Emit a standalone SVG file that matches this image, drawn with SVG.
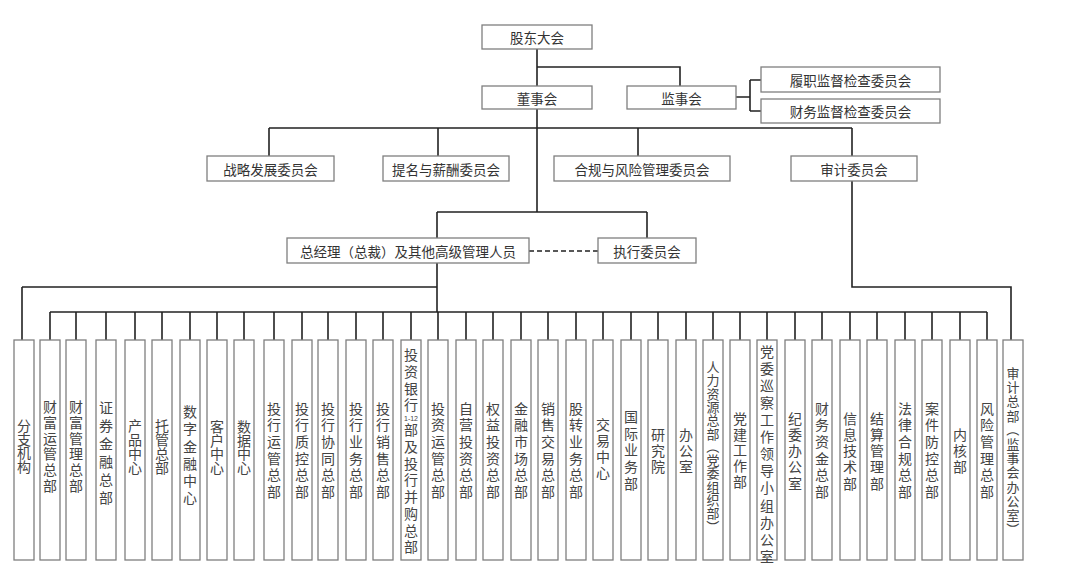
<svg xmlns="http://www.w3.org/2000/svg" width="1080" height="569" viewBox="0 0 1080 569">
<style>
.box{fill:#fff;stroke:#7f7f7f;stroke-width:1.3}
.conn{stroke:#222;stroke-width:1.6;fill:none}
.dash{stroke:#222;stroke-width:1.6;fill:none;stroke-dasharray:5 3}
.lbl{font-family:"Noto Sans CJK SC","Noto Sans",sans-serif;font-size:13.5px;fill:#333;text-anchor:middle;dominant-baseline:central}
.v{font-family:"Noto Sans CJK SC","Noto Sans",sans-serif;font-size:14px;fill:#444;text-anchor:middle;writing-mode:vertical-rl;dominant-baseline:central}
.p{font-family:"Noto Sans CJK SC","Noto Sans",sans-serif;font-size:13px;fill:#444;text-anchor:middle;dominant-baseline:central}
.sm{font-family:"Liberation Sans",sans-serif;font-size:7px;fill:#444;text-anchor:middle;dominant-baseline:central}
</style>
<rect width="1080" height="569" fill="#fff"/>
<g id="connectors">
<path class="conn" d="M537 49V86M537 67H680V86M736 97H750M750 80V111M750 80H761M750 111H761"/>
<path class="conn" d="M537 109V212M269 128H852M269 128V156M438 128V156M638 128V156M852 128V156"/>
<path class="conn" d="M437 212H647M437 212V238M647 212V238"/>
<path class="dash" d="M529 251H598"/>
<path class="conn" d="M437 263V312M22 287H437M22 287V340"/>
<path class="conn" d="M852 181V287H1011V340"/>
<path class="conn" d="M50 312H987"/>
<path class="conn" d="M50 312V340M76 312V340M106 312V340M135 312V340M162 312V340M190 312V340M217 312V340M244 312V340M274 312V340M302 312V340M328 312V340M356 312V340M383 312V340M411 312V340M438 312V340M466 312V340M493 312V340M521 312V340M548 312V340M576 312V340M603 312V340M631 312V340M658 312V340M686 312V340M713 312V340M740 312V340M767 312V340M795 312V340M822 312V340M850 312V340M877 312V340M905 312V340M932 312V340M960 312V340M987 312V340"/>
</g>
<g id="gudong"><rect class="box" x="482" y="25" width="110" height="24"/><text class="lbl" x="537" y="37">股东大会</text></g>
<g id="dongshihui"><rect class="box" x="482" y="86" width="110" height="23"/><text class="lbl" x="537" y="97.5">董事会</text></g>
<g id="jianshihui"><rect class="box" x="627" y="86" width="109" height="23"/><text class="lbl" x="681.5" y="97.5">监事会</text></g>
<g id="lvzhi"><rect class="box" x="761" y="67" width="179" height="25"/><text class="lbl" x="850.5" y="79.5">履职监督检查委员会</text></g>
<g id="caiwu-jd"><rect class="box" x="761" y="99" width="179" height="24"/><text class="lbl" x="850.5" y="111">财务监督检查委员会</text></g>
<g id="zhanlue"><rect class="box" x="207" y="156" width="127" height="25"/><text class="lbl" x="270.5" y="168.5">战略发展委员会</text></g>
<g id="timing"><rect class="box" x="383" y="156" width="126" height="25"/><text class="lbl" x="446" y="168.5">提名与薪酬委员会</text></g>
<g id="hegui"><rect class="box" x="554" y="156" width="176" height="25"/><text class="lbl" x="642" y="168.5">合规与风险管理委员会</text></g>
<g id="shenji-wyh"><rect class="box" x="791" y="156" width="126" height="25"/><text class="lbl" x="854" y="168.5">审计委员会</text></g>
<g id="zongjingli"><rect class="box" x="287" y="238" width="242" height="25"/><text class="lbl" x="408" y="250.5">总经理（总裁）及其他高级管理人员</text></g>
<g id="zhixing"><rect class="box" x="598" y="238" width="98" height="25"/><text class="lbl" x="647" y="250.5">执行委员会</text></g>

<g id="c1"><rect class="box" x="14" y="340" width="20" height="220"/><text class="v" x="24" y="446" style="letter-spacing:-0.3px">分支机构</text></g>
<g id="c2"><rect class="box" x="40" y="340" width="20" height="220"/><text class="v" x="50" y="447" style="letter-spacing:1.7px">财富运管总部</text></g>
<g id="c3"><rect class="box" x="66" y="340" width="20" height="220"/><text class="v" x="76" y="447" style="letter-spacing:1.7px">财富管理总部</text></g>
<g id="c4"><rect class="box" x="96" y="340" width="20" height="220"/><text class="v" x="106" y="455" style="letter-spacing:4px">证券金融总部</text></g>
<g id="c5"><rect class="box" x="125" y="340" width="20" height="220"/><text class="v" x="135" y="447" style="letter-spacing:0px">产品中心</text></g>
<g id="c6"><rect class="box" x="152" y="340" width="20" height="220"/><text class="v" x="162" y="447" style="letter-spacing:0px">托管总部</text></g>
<g id="c7"><rect class="box" x="180" y="340" width="20" height="220"/><text class="v" x="190" y="456.5" style="letter-spacing:3.3px">数字金融中心</text></g>
<g id="c8"><rect class="box" x="207" y="340" width="20" height="220"/><text class="v" x="217" y="447" style="letter-spacing:-0.5px">客户中心</text></g>
<g id="c9"><rect class="box" x="234" y="340" width="20" height="220"/><text class="v" x="244" y="447" style="letter-spacing:-0.5px">数据中心</text></g>
<g id="c10"><rect class="box" x="264" y="340" width="20" height="220"/><text class="v" x="274" y="451.3" style="letter-spacing:2.7px">投行运管总部</text></g>
<g id="c11"><rect class="box" x="292" y="340" width="20" height="220"/><text class="v" x="302" y="451.3" style="letter-spacing:2.7px">投行质控总部</text></g>
<g id="c12"><rect class="box" x="318" y="340" width="20" height="220"/><text class="v" x="328" y="451.3" style="letter-spacing:2.7px">投行协同总部</text></g>
<g id="c13"><rect class="box" x="346" y="340" width="20" height="220"/><text class="v" x="356" y="451.3" style="letter-spacing:2.7px">投行业务总部</text></g>
<g id="c14"><rect class="box" x="373" y="340" width="20" height="220"/><text class="v" x="383" y="451.3" style="letter-spacing:2.7px">投行销售总部</text></g>
<g id="c15"><rect class="box" x="401" y="340" width="20" height="220"/><text class="v" x="411" y="381.3" style="letter-spacing:2.7px">投资银行</text><text class="sm" x="411" y="418">1-12</text><text class="v" x="411" y="489.8" style="letter-spacing:2.7px">部及投行并购总部</text></g>
<g id="c16"><rect class="box" x="428" y="340" width="20" height="220"/><text class="v" x="438" y="451.3" style="letter-spacing:2.7px">投资运管总部</text></g>
<g id="c17"><rect class="box" x="456" y="340" width="20" height="220"/><text class="v" x="466" y="451.3" style="letter-spacing:2.7px">自营投资总部</text></g>
<g id="c18"><rect class="box" x="483" y="340" width="20" height="220"/><text class="v" x="493" y="451.3" style="letter-spacing:2.7px">权益投资总部</text></g>
<g id="c19"><rect class="box" x="511" y="340" width="20" height="220"/><text class="v" x="521" y="451.3" style="letter-spacing:2.7px">金融市场总部</text></g>
<g id="c20"><rect class="box" x="538" y="340" width="20" height="220"/><text class="v" x="548" y="451.3" style="letter-spacing:2.7px">销售交易总部</text></g>
<g id="c21"><rect class="box" x="566" y="340" width="20" height="220"/><text class="v" x="576" y="451.3" style="letter-spacing:2.7px">股转业务总部</text></g>
<g id="c22"><rect class="box" x="593" y="340" width="20" height="220"/><text class="v" x="603" y="450" style="letter-spacing:2px">交易中心</text></g>
<g id="c23"><rect class="box" x="621" y="340" width="20" height="220"/><text class="v" x="631" y="451.3" style="letter-spacing:2.7px">国际业务部</text></g>
<g id="c24"><rect class="box" x="648" y="340" width="20" height="220"/><text class="v" x="658" y="452" style="letter-spacing:2px">研究院</text></g>
<g id="c25"><rect class="box" x="676" y="340" width="20" height="220"/><text class="v" x="686" y="452" style="letter-spacing:2px">办公室</text></g>
<g id="c26"><rect class="box" x="703" y="340" width="20" height="220"/><text class="v" x="713" y="400.6" style="font-size:13px;letter-spacing:0.3px">人力资源总部</text><text class="p" x="713" y="447" transform="rotate(90 713 447)">（</text><text class="v" x="713" y="487" style="font-size:13px;letter-spacing:0.3px">党委组织部</text><text class="p" x="713" y="526.8" transform="rotate(90 713 526.8)">）</text></g>
<g id="c27"><rect class="box" x="730" y="340" width="20" height="220"/><text class="v" x="740" y="451" style="letter-spacing:1.8px">党建工作部</text></g>
<g id="c28"><rect class="box" x="757" y="340" width="20" height="220"/><text class="v" x="767" y="455.5" style="letter-spacing:3.1px">党委巡察工作领导小组办公室</text></g>
<g id="c29"><rect class="box" x="785" y="340" width="20" height="220"/><text class="v" x="795" y="452" style="letter-spacing:2.3px">纪委办公室</text></g>
<g id="c30"><rect class="box" x="812" y="340" width="20" height="220"/><text class="v" x="822" y="451.3" style="letter-spacing:2.7px">财务资金总部</text></g>
<g id="c31"><rect class="box" x="840" y="340" width="20" height="220"/><text class="v" x="850" y="452" style="letter-spacing:2.3px">信息技术部</text></g>
<g id="c32"><rect class="box" x="867" y="340" width="20" height="220"/><text class="v" x="877" y="452" style="letter-spacing:2.3px">结算管理部</text></g>
<g id="c33"><rect class="box" x="895" y="340" width="20" height="220"/><text class="v" x="905" y="451.3" style="letter-spacing:2.7px">法律合规总部</text></g>
<g id="c34"><rect class="box" x="922" y="340" width="20" height="220"/><text class="v" x="932" y="451.3" style="letter-spacing:2.7px">案件防控总部</text></g>
<g id="c35"><rect class="box" x="950" y="340" width="20" height="220"/><text class="v" x="960" y="452" style="letter-spacing:2px">内核部</text></g>
<g id="c36"><rect class="box" x="977" y="340" width="20" height="220"/><text class="v" x="987" y="451.3" style="letter-spacing:2.7px">风险管理总部</text></g>
<g id="c37"><rect class="box" x="1003" y="340" width="20" height="220"/><text class="v" x="1013" y="394.9" style="font-size:13px;letter-spacing:1.2px">审计总部</text><text class="p" x="1013" y="429.8" transform="rotate(90 1013 429.8)">（</text><text class="v" x="1013" y="480.1" style="font-size:13px;letter-spacing:1.2px">监事会办公室</text><text class="p" x="1013" y="529.2" transform="rotate(90 1013 529.2)">）</text></g>
</svg>
